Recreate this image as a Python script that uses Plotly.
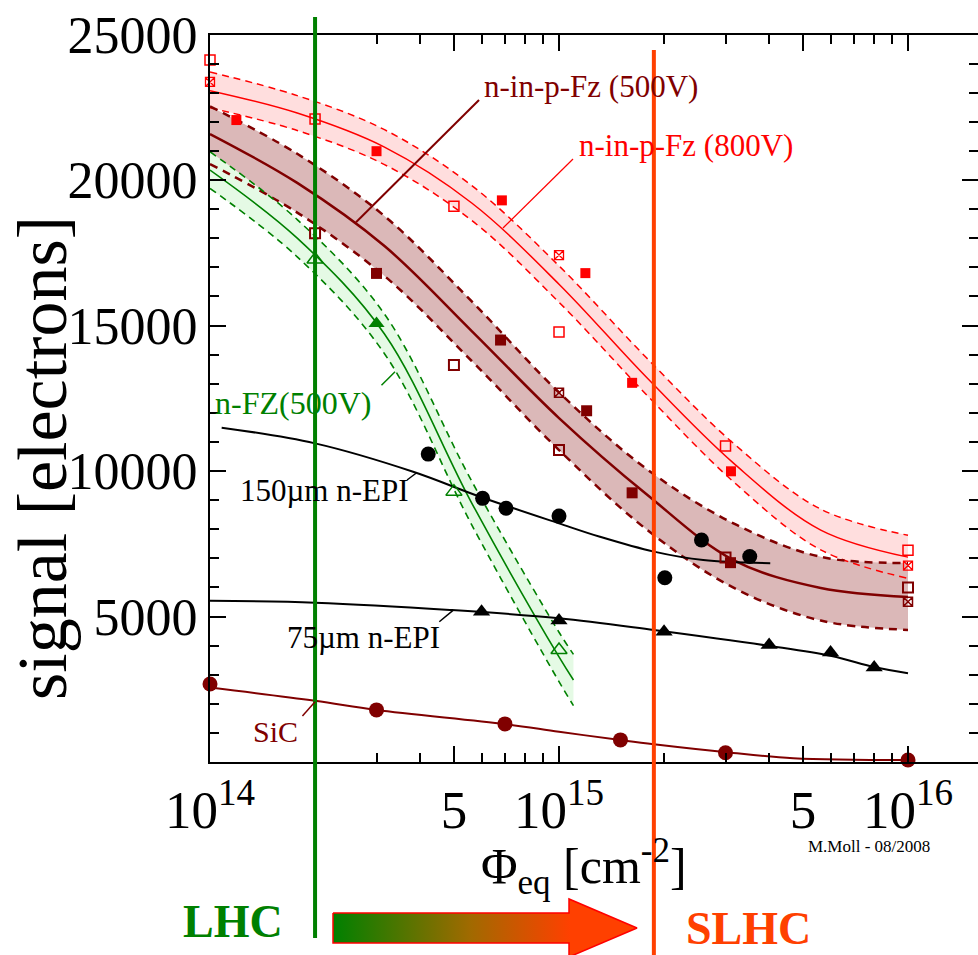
import plotly.graph_objects as go

# ---------------- data ----------------
# common fluence nodes for the fitted bands (quarter decades)
fit_x = [1e14, 1.778e14, 3.162e14, 5.623e14, 1e15, 1.778e15, 3.162e15, 5.623e15, 1e16]

# n-in-p-Fz (800V): measured points and fit band
p800_filled_x = [1.19e14, 3e14, 6.86e14, 1.19e15, 1.62e15, 3.11e15]
p800_filled_y = [22060, 20990, 19300, 16800, 13030, 9990]
p800_open_x = [1e14, 2e14, 5e14, 1e15, 3e15, 1e16]
p800_open_y = [24120, 22100, 19100, 14780, 10860, 7280]
p800_cross_x = [1e14, 1e15, 1e16]
p800_cross_y = [23370, 17420, 6750]
p800_fit_mid = [23070, 22300, 21130, 19210, 16420, 13230, 10270, 7970, 7040]
p800_fit_hi = [23710, 22900, 21730, 19810, 17050, 13900, 10950, 8690, 7790]
p800_fit_lo = [22480, 21700, 20530, 18610, 15800, 12630, 9630, 7290, 6310]

# n-in-p-Fz (500V)
p500_filled_x = [3e14, 6.8e14, 1.2e15, 1.62e15, 3.1e15]
p500_filled_y = [16790, 14500, 12070, 9250, 6850]
p500_open_x = [2e14, 5e14, 1e15, 3e15, 1e16]
p500_open_y = [18170, 13640, 10720, 7030, 6000]
p500_cross_x = [1e15, 1e16]
p500_cross_y = [12690, 5510]
p500_fit_mid = [21580, 19900, 17730, 14810, 11820, 9210, 6940, 5980, 5670]
p500_fit_hi = [22530, 20900, 18760, 15830, 12700, 10080, 8200, 7050, 6840]
p500_fit_lo = [20550, 18880, 16700, 13780, 10720, 8000, 5990, 4860, 4540]

# n-FZ (500V)
nfz_open_x = [2e14, 5e14, 1e15]
nfz_open_y = [17270, 9290, 3850]
nfz_filled_x = [3e14]
nfz_filled_y = [15070]
nfz_fit_x = [1e14, 1.778e14, 3.162e14, 5.623e14, 1e15, 1.1e15]
nfz_fit_mid = [20340, 18000, 14710, 8900, 3610, 2820]
nfz_fit_hi = [20970, 18640, 15390, 9650, 4460, 3700]
nfz_fit_lo = [19710, 17360, 14030, 8150, 2760, 1940]

# 150um n-EPI
epi150_x = [4.22e14, 6.04e14, 7.05e14, 1e15, 2.01e15, 2.56e15, 3.52e15]
epi150_y = [10580, 9060, 8720, 8450, 6330, 7630, 7060]
epi150_fit_x = [1.08e14, 2e14, 3.82e14, 5.94e14, 1e15, 1.31e15, 1.87e15, 2.59e15, 4.03e15]
epi150_fit_y = [11490, 10950, 9975, 9116, 8200, 7740, 7230, 6940, 6830]

# 75um n-EPI
epi75_x = [6e14, 1e15, 2e15, 4e15, 6e15, 8e15]
epi75_y = [5160, 4860, 4480, 4020, 3760, 3250]
epi75_fit_x = [1e14, 2e14, 4.87e14, 1e15, 1.87e15, 4e15, 6.04e15, 8.04e15, 1e16]
epi75_fit_y = [5540, 5475, 5225, 4940, 4535, 3990, 3640, 3255, 3050]

# SiC
sic_x = [1e14, 3e14, 7e14, 1.5e15, 3e15, 1e16]
sic_y = [2680, 1790, 1310, 760, 320, 70]
sic_fit_x = [1e14, 2e14, 3e14, 7e14, 1e15, 1.5e15, 1.87e15, 3.02e15, 4.69e15, 1e16]
sic_fit_y = [2560, 2105, 1790, 1305, 1040, 755, 610, 335, 130, 70]

# fluence marks of the two machines
lhc_fluence = 2e14
slhc_fluence = 1.87e15

# axis ticks
x_major = [1e14, 5e14, 1e15, 5e15, 1e16]
x_major_text = ["10<sup>14</sup>", "5", "10<sup>15</sup>", "5", "10<sup>16</sup>"]
x_minor = [2e14, 3e14, 4e14, 6e14, 7e14, 8e14, 9e14,
           2e15, 3e15, 4e15, 6e15, 7e15, 8e15, 9e15]
y_major = [5000, 10000, 15000, 20000, 25000]
y_major_text = ["5000", "10000", "15000", "20000", "25000"]
y_minor = [v for v in range(1000, 25000, 1000) if v % 5000]

# ---------------- page geometry ----------------
W, H = 978, 955
FRAME_L, FRAME_R, FRAME_B, FRAME_T = 210, 978, 762, 34.5
DECADE = 349.0


def px(x):
    return x / W


def py(y):
    return 1 - y / H


RED = "#ff0000"
MAROON = "#800000"
GREEN = "#008000"
ORANGE = "#ff4000"
SERIF = "Liberation Serif"

fig = go.Figure()


def add_band(x, hi, lo, fill):
    fig.add_trace(go.Scatter(x=x, y=hi, mode="lines", line=dict(width=0, shape="spline"),
                             hoverinfo="skip", showlegend=False))
    fig.add_trace(go.Scatter(x=x, y=lo, mode="lines", line=dict(width=0, shape="spline"),
                             fill="tonexty", fillcolor=fill, hoverinfo="skip", showlegend=False))


def add_band_lines(x, hi, lo, mid, color, mid_w, edge_w, dash):
    for yy in (hi, lo):
        fig.add_trace(go.Scatter(x=x, y=yy, mode="lines",
                                 line=dict(color=color, width=edge_w, dash=dash, shape="spline"),
                                 hoverinfo="skip", showlegend=False))
    fig.add_trace(go.Scatter(x=x, y=mid, mode="lines",
                             line=dict(color=color, width=mid_w, shape="spline"),
                             hoverinfo="skip", showlegend=False))


# shaded fit bands
add_band(fit_x, p800_fit_hi, p800_fit_lo, "#ffdede")
add_band(fit_x, p500_fit_hi, p500_fit_lo, "#dbb8b8")
add_band(nfz_fit_x, nfz_fit_hi, nfz_fit_lo, "#e5fae5")

add_band_lines(fit_x, p800_fit_hi, p800_fit_lo, p800_fit_mid, RED, 1.5, 1.5, "7px,5px")
add_band_lines(fit_x, p500_fit_hi, p500_fit_lo, p500_fit_mid, MAROON, 2.5, 2.5, "8px,6px")
add_band_lines(nfz_fit_x, nfz_fit_hi, nfz_fit_lo, nfz_fit_mid, GREEN, 1.6, 1.6, "7px,5px")

# simple fit lines
for fx, fy, col in [(epi150_fit_x, epi150_fit_y, "black"),
                    (epi75_fit_x, epi75_fit_y, "black"),
                    (sic_fit_x, sic_fit_y, MAROON)]:
    fig.add_trace(go.Scatter(x=fx, y=fy, mode="lines",
                             line=dict(color=col, width=2, shape="spline"),
                             hoverinfo="skip", showlegend=False))


def add_markers(x, y, symbol, size, color, lw=1.5):
    fig.add_trace(go.Scatter(
        x=x, y=y, mode="markers", cliponaxis=False, showlegend=False,
        marker=dict(symbol=symbol, size=size, color=color,
                    line=dict(color=color, width=lw))))


add_markers(p800_filled_x, p800_filled_y, "square", 10, RED, 0)
add_markers(p800_open_x, p800_open_y, "square-open", 10, RED, 1.5)
add_markers(p800_cross_x, p800_cross_y, "square-x-open", 9, RED, 1.3)
add_markers(p500_filled_x, p500_filled_y, "square", 11, MAROON, 0)
add_markers(p500_open_x, p500_open_y, "square-open", 10, MAROON, 2)
add_markers(p500_cross_x, p500_cross_y, "square-x-open", 9, MAROON, 1.5)
add_markers(nfz_open_x, nfz_open_y, "triangle-up-open", 14, GREEN, 1.5)
add_markers(nfz_filled_x, nfz_filled_y, "triangle-up", 14, GREEN, 0)
add_markers(epi150_x, epi150_y, "circle", 15, "black", 0)
add_markers(epi75_x, epi75_y, "triangle-up", 15, "black", 0)
add_markers(sic_x, sic_y, "circle", 15, MAROON, 0)

# direction arrow below the axis (pixel overlay axes covering the page)
arrow_px_x = [333, 569, 569, 637, 569, 569, 333, 333]
arrow_px_y = [913, 913, 899, 928, 957, 943, 943, 913]
fig.add_trace(go.Scatter(
    x=arrow_px_x, y=arrow_px_y, xaxis="x2", yaxis="y2", mode="lines",
    fill="toself", line=dict(color=RED, width=1.5),
    fillgradient=dict(type="horizontal",
                      colorscale=[[0, GREEN], [0.45, "#a06a00"], [0.78, ORANGE], [1, ORANGE]]),
    hoverinfo="skip", showlegend=False))

shapes = [
    dict(type="line", xref="x", yref="paper", x0=lhc_fluence, x1=lhc_fluence,
         y0=py(938), y1=py(17), line=dict(color=GREEN, width=4), layer="above"),
    dict(type="line", xref="x", yref="paper", x0=slhc_fluence, x1=slhc_fluence,
         y0=py(960), y1=py(50), line=dict(color=ORANGE, width=4), layer="above"),
]

# leader lines from labels to curves (data coordinates)
leaders = [
    ((2.62e14, 18550), (5.9e14, 22750), MAROON, 2),
    ((6.91e14, 18350), (1.097e15, 20720), RED, 1.2),
    ((3.1e14, 12950), (3.39e14, 13410), GREEN, 1.5),
    ((3.67e14, 9690), (3.91e14, 9940), "black", 1.5),
    ((4.54e14, 4820), (4.98e14, 5220), "black", 1.5),
    ((1.84e14, 1580), (2e14, 2070), MAROON, 1.5),
]
for (xa, ya), (xb, yb), col, w in leaders:
    shapes.append(dict(type="line", xref="x", yref="y", x0=xa, y0=ya, x1=xb, y1=yb,
                       line=dict(color=col, width=w), layer="above"))

annotations = []


def label(text, x, y, color, size, xanchor="left", bold=False, angle=0):
    t = f"<b>{text}</b>" if bold else text
    annotations.append(dict(text=t, x=px(x), y=py(y), xref="paper", yref="paper",
                            xanchor=xanchor, yanchor="middle", showarrow=False,
                            textangle=angle,
                            font=dict(family=SERIF, size=size, color=color)))


label("n-in-p-Fz (500V)", 482, 87, MAROON, 31)
label("n-in-p-Fz (800V)", 577, 145, RED, 31)
label("n-FZ(500V)", 213, 403, GREEN, 32)
label("150µm n-EPI", 238, 491, "black", 31)
label("75µm n-EPI", 285, 637, "black", 31)
label("SiC", 251, 731, MAROON, 30)
label("M.Moll - 08/2008", 806, 846, "black", 17)
label("LHC", 233, 921, GREEN, 46, xanchor="center", bold=True)
label("SLHC", 748, 928, ORANGE, 46, xanchor="center", bold=True)
label("Φ<sub>eq</sub> [cm<sup>-2</sup>]", 479, 866, "black", 50)
label("signal [electrons]", 42, 458, "black", 70, xanchor="center", angle=-90)

axis_common = dict(showline=True, linecolor="black", linewidth=2, mirror="ticks",
                   ticks="inside", tickcolor="black", tickwidth=2, ticklen=16,
                   showgrid=False, zeroline=False, automargin=False)

fig.update_layout(
    width=W, height=H, margin=dict(l=0, r=0, t=0, b=0),
    plot_bgcolor="rgba(0,0,0,0)", paper_bgcolor="white", showlegend=False,
    font=dict(family=SERIF, color="black"),
    xaxis=dict(type="log", range=[14, 14 + (FRAME_R - FRAME_L) / DECADE],
               domain=[px(FRAME_L), px(FRAME_R)],
               tickmode="array", tickvals=x_major, ticktext=x_major_text,
               tickfont=dict(family=SERIF, size=53, color="black"),
               minor=dict(tickmode="array", tickvals=x_minor, ticks="inside",
                          ticklen=9, tickwidth=2, tickcolor="black"),
               **axis_common),
    yaxis=dict(range=[0, 25000], domain=[py(FRAME_B), py(FRAME_T)],
               tickmode="array", tickvals=y_major, ticktext=y_major_text,
               tickfont=dict(family=SERIF, size=52, color="black"),
               minor=dict(tickmode="array", tickvals=y_minor, ticks="inside",
                          ticklen=9, tickwidth=2, tickcolor="black"),
               **axis_common),
    xaxis2=dict(range=[0, W], domain=[0, 1], anchor="y2", visible=False, fixedrange=True),
    yaxis2=dict(range=[H, 0], domain=[0, 1], anchor="x2", visible=False, fixedrange=True),
    shapes=shapes,
    annotations=annotations,
)

fig.write_html("out.html")
